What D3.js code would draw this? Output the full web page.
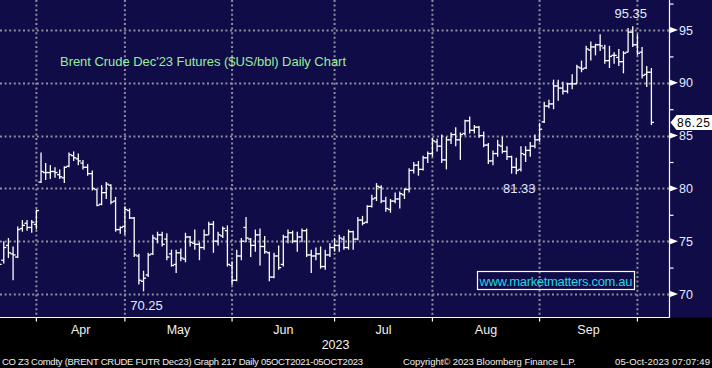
<!DOCTYPE html>
<html>
<head>
<meta charset="utf-8">
<script src="https://cdn.jsdelivr.net/npm/d3@7"></script>
<style>
  body { margin: 0; background: #000; }
  svg { display: block; }
  text { font-family: "Liberation Sans", Arial, sans-serif; }
</style>
</head>
<body>
<svg id="chart" width="712" height="368"></svg>
<script>
// trading days shown (2023), one array per month
const marDays = [21,22,23,24,27,28,29,30,31];
const aprDays = [3,4,5,6,10,11,12,13,14,17,18,19,20,21,24,25,26,27,28];
const mayDays = [1,2,3,4,5,8,9,10,11,12,15,16,17,18,19,22,23,24,25,26,29,30,31];
const junDays = [1,2,5,6,7,8,9,12,13,14,15,16,19,20,21,22,23,26,27,28,29,30];
const julDays = [3,4,5,6,7,10,11,12,13,14,17,18,19,20,21,24,25,26,27,28,31];
const augDays = [1,2,3,4,7,8,9,10,11,14,15,16,17,18,21,22,23,24,25,28,29,30,31];
const sepDays = [1,4,5,6,7,8,11,12,13,14,15,18,19,20,21,22,25,26,27,28,29];
const octDays = [2,3,4];

// OHLC ($US/bbl), Mar | Apr | May | Jun | Jul | Aug | Sep | Oct
const opens = [
  73.0,73.2,74.6,73.8,73.5,76.2,76.7,76.3,76.6,
  80.6,81.5,81.5,81.6,81.3,81.0,82.1,83.1,82.8,82.4,82.0,81.4,79.9,78.5,79.6,80.3,78.8,76.1,76.4,
  77.9,77.2,73.6,71.2,71.8,73.8,75.2,75.6,75.2,73.8,72.8,73.9,73.3,75.4,74.8,74.7,74.4,75.6,76.6,75.0,75.5,76.0,72.7,
  71.3,73.6,76.3,75.2,74.6,75.6,74.5,73.9,71.6,73.6,72.8,75.4,75.8,75.0,75.4,76.0,73.7,73.6,73.8,72.6,73.7,74.4,
  74.6,75.2,74.4,75.9,75.2,77.0,76.8,78.3,79.1,80.1,78.8,78.0,78.8,79.0,79.4,79.9,81.7,82.2,81.8,82.9,83.3,
  84.4,84.0,82.7,84.6,85.1,84.6,85.2,86.4,85.5,85.8,85.0,84.1,82.6,83.3,84.0,83.5,83.0,82.0,81.8,83.2,83.6,84.0,84.6,
  86.3,87.8,88.0,89.7,89.5,89.2,89.9,89.9,91.4,91.4,93.1,93.4,93.6,93.3,92.1,92.6,92.4,92.0,92.9,94.8,93.6,
  92.9,90.8,91.0
];
const highs = [
  73.8,75.0,75.3,74.5,76.4,77.0,77.0,77.0,78.0,
  83.4,82.4,82.2,82.0,81.8,82.1,83.4,83.5,83.3,82.7,82.3,81.7,79.9,80.3,80.6,80.4,79.2,76.4,78.3,
  78.1,77.3,73.8,72.2,73.9,75.6,75.9,75.9,75.75,74.2,74.2,74.3,75.8,75.5,76.1,74.9,76.1,76.85,76.9,75.9,76.4,76.5,73.1,
  74.2,75.3,77.3,75.3,76.1,76.2,75.5,74.0,73.9,74.6,75.6,76.1,76.0,75.9,76.2,76.2,74.2,74.4,74.5,74.2,74.8,75.3,
  75.6,75.5,76.1,76.0,77.3,77.4,78.4,79.4,80.5,80.3,79.2,79.0,79.6,79.7,80.0,81.9,82.5,82.6,83.1,83.5,84.8,
  84.7,85.1,84.9,85.3,85.8,85.3,86.5,86.8,86.0,85.9,85.4,84.3,83.6,84.6,84.9,84.0,83.1,82.9,84.0,84.0,84.4,85.1,86.2,
  88.2,88.4,90.3,90.3,90.1,90.0,90.8,91.7,92.1,93.5,93.9,93.7,94.6,93.6,93.5,92.9,93.2,93.0,95.2,95.35,94.6,
  93.4,91.6,91.4
];
const lows = [
  71.8,72.9,73.4,71.3,73.4,75.9,76.0,75.8,76.1,
  80.5,80.8,80.9,81.0,80.9,80.5,82.0,82.6,82.2,81.8,81.2,79.8,78.3,78.4,79.0,78.5,75.9,75.7,75.6,
  77.1,73.5,70.9,70.25,71.6,73.7,74.8,74.5,73.2,72.6,72.0,73.1,73.0,74.5,74.2,73.2,74.2,75.6,73.9,74.6,75.3,72.6,70.85,
  71.2,73.2,74.9,73.5,74.0,72.7,73.8,71.2,71.5,72.3,72.6,74.8,74.8,74.0,74.9,73.5,72.0,73.2,72.4,72.3,73.5,74.0,
  74.0,74.2,74.2,74.2,75.1,76.5,76.7,78.2,78.8,78.6,77.8,77.7,78.6,78.1,79.0,79.6,81.4,81.2,81.7,82.4,83.0,
  83.5,82.4,81.8,84.2,84.0,82.7,85.0,85.2,85.2,84.8,83.9,82.3,82.2,83.0,83.3,82.7,81.4,81.33,81.6,82.5,83.0,83.8,84.4,
  86.2,87.6,87.5,88.3,88.9,89.0,89.4,89.9,91.0,91.3,92.1,92.6,93.0,91.8,91.4,91.8,91.6,90.9,92.9,93.4,92.6,
  90.4,89.6,86.0
];
const closes = [
  72.8,74.4,73.9,73.7,76.1,76.5,76.3,76.8,77.9,
  81.6,81.5,81.6,81.5,81.1,82.0,83.2,82.9,82.6,82.0,81.4,80.0,78.4,79.6,80.4,78.7,76.1,76.3,78.0,
  77.2,73.7,71.3,71.5,73.7,75.3,75.6,74.7,73.5,72.7,73.9,73.4,75.4,74.9,74.7,74.4,75.6,76.6,75.0,75.6,76.2,72.8,71.3,
  73.6,75.0,75.3,74.6,75.6,74.5,74.0,71.6,73.6,72.5,75.4,75.8,75.0,75.4,76.0,73.7,73.6,73.8,72.6,73.7,74.4,74.6,
  75.3,74.4,75.9,75.2,77.0,76.7,78.3,79.0,80.2,78.8,78.1,78.8,79.0,79.5,79.9,81.7,82.2,81.8,82.9,83.3,84.5,
  84.0,82.7,84.6,85.1,84.6,85.1,86.4,85.5,85.8,85.0,84.1,82.6,83.3,84.1,83.5,83.0,82.0,81.7,83.3,83.6,84.0,84.6,85.6,
  87.8,88.0,89.7,89.5,89.2,89.9,89.9,91.5,91.3,93.2,93.4,93.6,93.5,92.1,92.5,92.6,92.0,92.8,94.8,93.6,92.8,
  90.7,91.0,86.25
];

const monthLabels = ["Apr", "May", "Jun", "Jul", "Aug", "Sep"];
const yMajor = [70, 75, 80, 85, 90, 95];
const yMinor = [72.5, 77.5, 82.5, 87.5, 92.5, 97.5];
const lastPrice = 86.25;
const callouts = [
  { label: "95.35", date: "2023-09-28" },
  { label: "81.33", date: "2023-08-24" },
  { label: "70.25", date: "2023-05-04" }
];

// build the bar table
const monthDays = [marDays, aprDays, mayDays, junDays, julDays, augDays, sepDays, octDays];
const dates = [];
monthDays.forEach((days, m) => days.forEach(d => dates.push(new Date(2023, m + 2, d))));
if (dates.length !== opens.length || highs.length !== opens.length ||
    lows.length !== opens.length || closes.length !== opens.length) {
  throw new Error("length mismatch " + dates.length + " " + opens.length + " " + highs.length + " " + lows.length + " " + closes.length);
}
const bars = dates.map((d, i) => ({ date: d, i, o: opens[i], h: highs[i], l: lows[i], c: closes[i] }));

drawChart();

function drawChart() {
  const svg = d3.select("#chart");
  const plotW = 669.5, plotH = 317.5;

  svg.append("rect").attr("width", 712).attr("height", 368).attr("fill", "#000");
  svg.append("rect").attr("width", 712).attr("height", plotH).attr("fill", "#100c48");

  // x: one slot per trading day
  const x = d3.scaleLinear().domain([0, bars.length - 1]).range([-0.9, 651.4]);
  const y = d3.scaleLinear().domain([70, 95]).range([294, 30]);

  // month boundaries sit on the last trading day of each month
  const fmt = d3.timeFormat("%Y-%m");
  const ends = [];
  bars.forEach((b, i) => {
    const nxt = bars[i + 1];
    if (nxt && fmt(nxt.date) !== fmt(b.date)) ends.push(i);
  });

  const grid = svg.append("g")
    .attr("stroke", "#8e8e9c")
    .attr("stroke-width", 2)
    .attr("stroke-dasharray", "2,2.6");

  grid.selectAll(".hg").data(yMajor).enter().append("line")
    .attr("x1", 0).attr("x2", plotW)
    .attr("y1", d => Math.round(y(d)) + 0.5).attr("y2", d => Math.round(y(d)) + 0.5);

  grid.selectAll(".vg").data(ends).enter().append("line")
    .attr("x1", d => x(d)).attr("x2", d => x(d))
    .attr("y1", 0).attr("y2", plotH);

  // axis lines
  svg.append("line").attr("x1", plotW).attr("x2", plotW).attr("y1", 0).attr("y2", plotH)
    .attr("stroke", "#fff").attr("stroke-width", 1.2);
  svg.append("line").attr("x1", 0).attr("x2", plotW).attr("y1", plotH).attr("y2", plotH)
    .attr("stroke", "#fff").attr("stroke-width", 1.2);

  // bottom ticks at month boundaries
  svg.selectAll(".bt").data(ends).enter().append("line")
    .attr("x1", d => x(d)).attr("x2", d => x(d))
    .attr("y1", plotH).attr("y2", plotH + 4)
    .attr("stroke", "#fff").attr("stroke-width", 1.2);

  // month labels centred between boundaries
  svg.selectAll(".ml").data(monthLabels).enter().append("text")
    .attr("x", (d, k) => (x(ends[k]) + x(ends[k + 1])) / 2)
    .attr("y", 333.5)
    .attr("text-anchor", "middle")
    .attr("fill", "#f2f2f2")
    .style("font-size", "12.5px")
    .text(d => d);

  svg.append("text")
    .attr("x", x(ends[3]) + 1).attr("y", 349)
    .attr("text-anchor", "middle")
    .attr("fill", "#f2f2f2")
    .style("font-size", "12.5px")
    .text("2023");

  // right axis: minor ticks, triangle markers, labels
  const axis = svg.append("g").attr("transform", `translate(${plotW},0)`);
  axis.call(d3.axisRight(y).tickValues(yMinor).tickSize(4).tickFormat(""));
  axis.select(".domain").remove();
  axis.selectAll(".tick line").attr("stroke", "#fff").attr("stroke-width", 1.2);

  svg.selectAll(".tri").data(yMajor).enter().append("path")
    .attr("d", d => `M${plotW},${y(d) - 3.2}L${plotW + 8.5},${y(d)}L${plotW},${y(d) + 3.2}Z`)
    .attr("fill", "#fff");

  svg.selectAll(".yl").data(yMajor).enter().append("text")
    .attr("x", 679).attr("y", d => y(d) + 4.6)
    .attr("fill", "#e2e9ff")
    .style("font-size", "12.5px")
    .text(d => d);

  // OHLC bars
  const tick = 2.6;
  const g = svg.append("g").attr("stroke", "#fff").attr("stroke-width", 1.3);
  const bar = g.selectAll(".bar").data(bars).enter().append("g").attr("class", "bar");
  bar.append("line")
    .attr("x1", d => x(d.i)).attr("x2", d => x(d.i))
    .attr("y1", d => y(d.h)).attr("y2", d => y(d.l));
  bar.append("line")
    .attr("x1", d => x(d.i) - tick).attr("x2", d => x(d.i))
    .attr("y1", d => y(d.o)).attr("y2", d => y(d.o));
  bar.append("line")
    .attr("x1", d => x(d.i)).attr("x2", d => x(d.i) + tick)
    .attr("y1", d => y(d.c)).attr("y2", d => y(d.c));

  // high / low callouts
  const key = d3.timeFormat("%Y-%m-%d");
  callouts.forEach(co => {
    const b = bars.find(d => key(d.date) === co.date);
    const isHigh = Math.abs(b.h - +co.label) < 0.01;
    svg.append("text")
      .attr("x", x(b.i) + (isHigh ? -2 : 3))
      .attr("y", isHigh ? y(b.h) - 8 : y(b.l) + 19)
      .attr("text-anchor", "middle")
      .attr("fill", "#e2e9ff")
      .style("font-size", "13px")
      .text(co.label);
  });

  // last price tag
  const ly = y(lastPrice);
  svg.append("path")
    .attr("d", `M${plotW + 1},${ly}L${plotW + 7},${ly - 7.5}L712,${ly - 7.5}L712,${ly + 7.5}L${plotW + 7},${ly + 7.5}Z`)
    .attr("fill", "#fff");
  svg.append("text")
    .attr("x", 677).attr("y", ly + 4.3)
    .attr("fill", "#000")
    .style("font-size", "12px")
    .attr("textLength", 33)
    .text(lastPrice.toFixed(2));

  // title
  svg.append("text")
    .attr("x", 60).attr("y", 65.5)
    .attr("fill", "#98ee98")
    .style("font-size", "13px")
    .attr("textLength", 286)
    .text("Brent Crude Dec'23 Futures ($US/bbl) Daily Chart");

  // website box
  svg.append("rect")
    .attr("x", 477.5).attr("y", 271.5).attr("width", 157).attr("height", 18)
    .attr("fill", "none").attr("stroke", "#fff").attr("stroke-width", 1.2);
  svg.append("text")
    .attr("x", 556).attr("y", 285.5)
    .attr("text-anchor", "middle")
    .attr("fill", "#22d6e4")
    .style("font-size", "13px")
    .attr("textLength", 153)
    .text("www.marketmatters.com.au");

  // footer
  const foot = svg.append("g").attr("fill", "#f0f0f0").style("font-size", "9.5px");
  foot.append("text").attr("x", 2).attr("y", 365).attr("textLength", 361)
    .text("CO Z3 Comdty (BRENT CRUDE FUTR  Dec23) Graph 217  Daily 05OCT2021-05OCT2023");
  foot.append("text").attr("x", 403).attr("y", 365).attr("textLength", 173)
    .text("Copyright\u00A9 2023 Bloomberg Finance L.P.");
  foot.append("text").attr("x", 615).attr("y", 365).attr("textLength", 95)
    .text("05-Oct-2023 07:07:49");
}
</script>
</body>
</html>
